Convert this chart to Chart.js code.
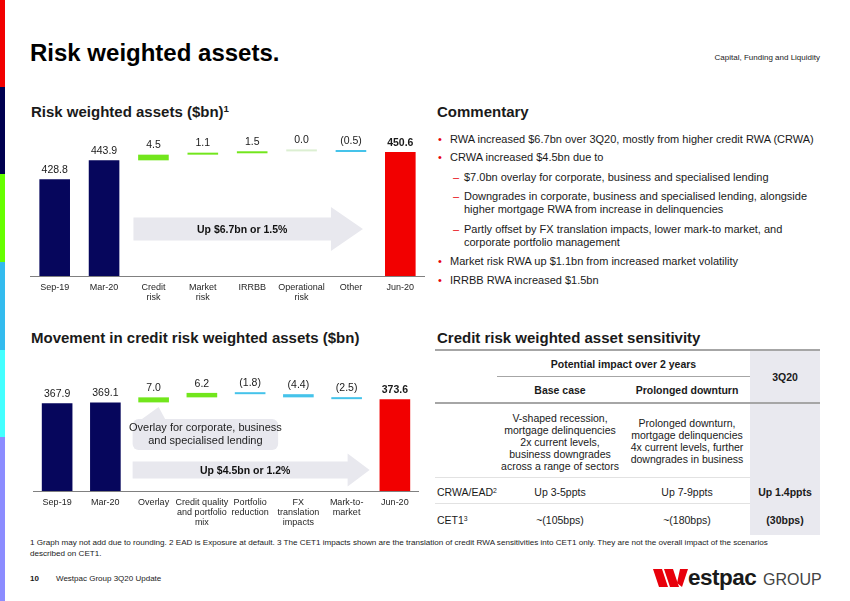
<!DOCTYPE html>
<html>
<head>
<meta charset="utf-8">
<script src="https://cdn.jsdelivr.net/npm/chart.js@4/dist/chart.umd.min.js"></script>
<style>
  body { margin: 0; width: 850px; height: 601px; background: #fff; position: relative; overflow: hidden;
         font-family: "Liberation Sans", Arial, sans-serif; color: #1a1a1a; }
  .a { position: absolute; white-space: nowrap; }
  .c { text-align: center; }
  .b { font-weight: bold; }
  .stripe { position: absolute; left: 0; width: 5px; }
  .h2 { font-size: 15px; font-weight: bold; line-height: 15px; }
  .cm { font-size: 11px; line-height: 13px; }
  .dot { color: #e8000b; }
  .tb { font-size: 10.5px; line-height: 12px; }
  .rule { position: absolute; background: #a6a6a6; }
  sup { font-size: 65%; line-height: 0; vertical-align: 0.5em; }
  canvas { position: absolute; }
</style>
</head>
<body>
<!-- left colour stripe -->
<div class="stripe" style="top:0;height:87px;background:#f20000"></div>
<div class="stripe" style="top:87px;height:87px;background:#000050"></div>
<div class="stripe" style="top:174px;height:88px;background:#66ff00"></div>
<div class="stripe" style="top:262px;height:88px;background:#33bbee"></div>
<div class="stripe" style="top:350px;height:87px;background:#44ffff"></div>
<div class="stripe" style="top:437px;height:164px;background:#8c8cff"></div>

<div class="a b" style="left:30px;top:41px;font-size:24px;line-height:24px;color:#000">Risk weighted assets.</div>
<div class="a" style="right:30px;top:53px;font-size:8px;line-height:10px;color:#222">Capital, Funding and Liquidity</div>

<div class="a h2" style="left:31px;top:104px">Risk weighted assets ($bn)<sup>1</sup></div>
<div class="a h2" style="left:437px;top:104px">Commentary</div>
<div class="a h2" style="left:31px;top:330px">Movement in credit risk weighted assets ($bn)</div>
<div class="a h2" style="left:437px;top:330px">Credit risk weighted asset sensitivity</div>

<!-- commentary -->
<div class="a cm dot" style="left:438px;top:133px">•</div>
<div class="a cm" style="left:450px;top:133px">RWA increased $6.7bn over 3Q20, mostly from higher credit RWA (CRWA)</div>
<div class="a cm dot" style="left:438px;top:151px">•</div>
<div class="a cm" style="left:450px;top:151px">CRWA increased $4.5bn due to</div>
<div class="a cm dot" style="left:453px;top:171px">–</div>
<div class="a cm" style="left:464px;top:171px">$7.0bn overlay for corporate, business and specialised lending</div>
<div class="a cm dot" style="left:453px;top:190px">–</div>
<div class="a cm" style="left:464px;top:190px">Downgrades in corporate, business and specialised lending, alongside<br>higher mortgage RWA from increase in delinquencies</div>
<div class="a cm dot" style="left:453px;top:223px">–</div>
<div class="a cm" style="left:464px;top:223px">Partly offset by FX translation impacts, lower mark-to market, and<br>corporate portfolio management</div>
<div class="a cm dot" style="left:438px;top:255px">•</div>
<div class="a cm" style="left:450px;top:255px">Market risk RWA up $1.1bn from increased market volatility</div>
<div class="a cm dot" style="left:438px;top:274px">•</div>
<div class="a cm" style="left:450px;top:274px">IRRBB RWA increased $1.5bn</div>

<!-- sensitivity table -->
<div class="a" style="left:750px;top:351px;width:70px;height:184px;background:#e9e9ef"></div>
<div class="rule" style="left:435px;top:349px;width:385px;height:2px"></div>
<div class="a tb b c" style="left:497px;top:358px;width:253px">Potential impact over 2 years</div>
<div class="rule" style="left:497px;top:376px;width:253px;height:1px"></div>
<div class="a tb b c" style="left:500px;top:384px;width:120px">Base case</div>
<div class="a tb b c" style="left:625px;top:384px;width:124px">Prolonged downturn</div>
<div class="a tb b c" style="left:750px;top:371px;width:70px">3Q20</div>
<div class="rule" style="left:435px;top:402px;width:385px;height:2px"></div>
<div class="a tb c" style="left:490px;top:412px;width:140px">V-shaped recession,<br>mortgage delinquencies<br>2x current levels,<br>business downgrades<br>across a range of sectors</div>
<div class="a tb c" style="left:622px;top:417px;width:130px">Prolonged downturn,<br>mortgage delinquencies<br>4x current levels, further<br>downgrades in business</div>
<div class="a" style="left:435px;top:477px;width:315px;height:1px;background:#e2e2e2"></div>
<div class="a tb" style="left:437px;top:486px">CRWA/EAD<sup>2</sup></div>
<div class="a tb c" style="left:500px;top:486px;width:120px">Up 3-5ppts</div>
<div class="a tb c" style="left:625px;top:486px;width:124px">Up 7-9ppts</div>
<div class="a tb b c" style="left:750px;top:486px;width:70px">Up 1.4ppts</div>
<div class="a" style="left:435px;top:503px;width:315px;height:1px;background:#e2e2e2"></div>
<div class="a tb" style="left:437px;top:514px">CET1<sup>3</sup></div>
<div class="a tb c" style="left:500px;top:514px;width:120px">~(105bps)</div>
<div class="a tb c" style="left:625px;top:514px;width:124px">~(180bps)</div>
<div class="a tb b c" style="left:750px;top:514px;width:70px">(30bps)</div>

<!-- footer -->
<div class="a" style="left:30px;top:537px;width:748px;white-space:normal;font-size:8.1px;line-height:11px;color:#222">1 Graph may not add due to rounding. 2 EAD is Exposure at default. 3 The CET1 impacts shown are the translation of credit RWA sensitivities into CET1 only. They are not the overall impact of the scenarios described on CET1.</div>
<div class="a b" style="left:30px;top:574px;font-size:8px;line-height:10px">10</div>
<div class="a" style="left:56px;top:574px;font-size:8px;line-height:10px;color:#222">Westpac Group 3Q20 Update</div>
<svg class="a" style="left:653px;top:569px" width="36" height="19" viewBox="0 0 36 19">
  <polygon points="0,0 9,0 15,18 6,18" fill="#e8000b"/>
  <polygon points="11,0 20,0 26,18 17,18" fill="#e8000b"/>
  <polygon points="27,0 35,0 29,18 24,14" fill="#e8000b"/>
</svg>
<div class="a b" style="left:688px;top:566px;font-size:22.5px;line-height:23px;color:#1a1a1a;letter-spacing:-0.5px">estpac</div>
<div class="a" style="left:763px;top:572px;font-size:16px;line-height:16px;color:#444">GROUP</div>

<canvas id="rwa" width="395" height="180" style="left:30px;top:130px"></canvas>
<canvas id="crwa" width="386" height="175" style="left:33px;top:360px"></canvas>

<script>
// ---- data: risk weighted assets ($bn)
const rwaCategories = [['Sep-19'], ['Mar-20'], ['Credit', 'risk'], ['Market', 'risk'], ['IRRBB'], ['Operational', 'risk'], ['Other'], ['Jun-20']];
const rwaOpening = [428.8, 443.9];
const rwaMoves = [4.5, 1.1, 1.5, 0.0, -0.5];
const rwaClosing = 450.6;

// ---- data: movement in credit RWA ($bn)
const crwaCategories = [['Sep-19'], ['Mar-20'], ['Overlay'], ['Credit quality', 'and portfolio', 'mix'], ['Portfolio', 'reduction'], ['FX', 'translation', 'impacts'], ['Mark-to-', 'market'], ['Jun-20']];
const crwaOpening = [367.9, 369.1];
const crwaMoves = [7.0, 6.2, -1.8, -4.4, -2.5];
const crwaClosing = 373.6;

const colors = {
  navy: '#06065c',
  red: '#f20000',
  green: '#72e61c',
  cyan: '#45c3ea',
  pale: '#dcefd2',
  arrow: '#e8e8ee'
};
const FONT = '"Liberation Sans", Arial, sans-serif';

// build floating bars for a waterfall
function waterfall(opening, moves, closing, floor) {
  const bars = [], labels = [], fills = [];
  opening.forEach(v => { bars.push([floor, v]); labels.push(v.toFixed(1)); fills.push(colors.navy); });
  let run = opening[opening.length - 1];
  moves.forEach(m => {
    bars.push([run, run + m]);
    run += m;
    labels.push(m < 0 ? '(' + Math.abs(m).toFixed(1) + ')' : m.toFixed(1));
    fills.push(m > 0 ? colors.green : (m < 0 ? colors.cyan : colors.pale));
  });
  bars.push([floor, closing]);
  labels.push(closing.toFixed(1));
  fills.push(colors.red);
  return { bars, labels, fills };
}

// value labels above each bar
const valueLabels = {
  id: 'valueLabels',
  afterDatasetsDraw(chart, args, opts) {
    const ctx = chart.ctx;
    const meta = chart.getDatasetMeta(0);
    const n = meta.data.length;
    ctx.save();
    ctx.textAlign = 'center';
    ctx.textBaseline = 'bottom';
    ctx.fillStyle = '#1a1a1a';
    meta.data.forEach((bar, i) => {
      const top = Math.min(bar.y, bar.base);
      ctx.font = (i === n - 1 ? 'bold ' : '') + '10.5px ' + FONT;
      ctx.fillText(opts.labels[i], bar.x, top - 4);
    });
    ctx.restore();
  }
};

// big grey arrow with caption, plus optional callout box
const annotations = {
  id: 'annotations',
  beforeDatasetsDraw(chart, args, o) {
    const ctx = chart.ctx;
    const x = chart.scales.x;
    const area = chart.chartArea;
    const left = x.getPixelForValue(2) + o.arrow.left;
    const tip = x.getPixelForValue(6) + o.arrow.tip;
    const cy = area.bottom - o.arrow.fromBottom;
    const bh = o.arrow.body, hh = o.arrow.head, hl = o.arrow.headLen;
    ctx.save();
    ctx.fillStyle = colors.arrow;
    ctx.beginPath();
    ctx.moveTo(left, cy - bh);
    ctx.lineTo(tip - hl, cy - bh);
    ctx.lineTo(tip - hl, cy - hh);
    ctx.lineTo(tip, cy);
    ctx.lineTo(tip - hl, cy + hh);
    ctx.lineTo(tip - hl, cy + bh);
    ctx.lineTo(left, cy + bh);
    ctx.closePath();
    ctx.fill();
    ctx.fillStyle = '#111';
    ctx.font = 'bold 10.5px ' + FONT;
    ctx.textAlign = 'center';
    ctx.textBaseline = 'middle';
    ctx.fillText(o.arrow.text, (left + tip) / 2 - 6, cy + 1);

    if (o.callout) {
      const c = o.callout;
      const bx = x.getPixelForValue(2) + c.left;
      const bw = x.getPixelForValue(4) + c.right - bx;
      const by = area.bottom - c.fromBottom;
      const px = x.getPixelForValue(2);
      ctx.fillStyle = colors.arrow;
      ctx.beginPath();
      ctx.roundRect(bx, by, bw, c.height, 6);
      ctx.fill();
      ctx.beginPath();
      ctx.moveTo(px - 13, by + 1);
      ctx.lineTo(px + 5, by - 12);
      ctx.lineTo(px + 12, by + 1);
      ctx.closePath();
      ctx.fill();
      ctx.fillStyle = '#222';
      ctx.font = '11px ' + FONT;
      c.lines.forEach((t, i) => ctx.fillText(t, bx + bw / 2, by + 9 + i * 13));
    }
    ctx.restore();
  }
};

function createWaterfall(canvasId, categories, wf, yMin, yMax, axisHeight, tickPad, barPct, annot) {
  const ctx = document.getElementById(canvasId);
  return new Chart(ctx, {
    type: 'bar',
    data: {
      labels: categories,
      datasets: [{
        data: wf.bars,
        backgroundColor: wf.fills,
        borderWidth: 0,
        categoryPercentage: 1,
        barPercentage: barPct,
        minBarLength: 2
      }]
    },
    options: {
      responsive: false,
      animation: false,
      layout: { padding: 0 },
      plugins: {
        legend: { display: false },
        tooltip: { enabled: false },
        valueLabels: { labels: wf.labels },
        annotations: annot
      },
      scales: {
        x: {
          grid: { display: false, drawTicks: false },
          border: { display: true, color: '#808080', width: 1 },
          ticks: {
            color: '#262626',
            font: { size: 9, family: FONT, lineHeight: 1.12 },
            padding: tickPad,
            maxRotation: 0,
            autoSkip: false
          },
          afterFit: s => { s.height = axisHeight; }
        },
        y: { display: false, min: yMin, max: yMax }
      }
    },
    plugins: [annotations, valueLabels]
  });
}

createWaterfall('rwa', rwaCategories, waterfall(rwaOpening, rwaMoves, rwaClosing, 352), 352, 468, 34, 6, 0.62, {
  arrow: { text: 'Up $6.7bn or 1.5%', left: -20, tip: 12, fromBottom: 47, body: 11.5, head: 22, headLen: 32 }
});

createWaterfall('crwa', crwaCategories, waterfall(crwaOpening, crwaMoves, crwaClosing, 246), 246, 428, 44, 6.5, 0.635, {
  arrow: { text: 'Up $4.5bn or 1.2%', left: -21, tip: 23, fromBottom: 21, body: 8.5, head: 16.5, headLen: 22 },
  callout: { left: -21, right: 28, fromBottom: 72, height: 31,
             lines: ['Overlay for corporate, business', 'and specialised lending'] }
});
</script>
</body>
</html>
